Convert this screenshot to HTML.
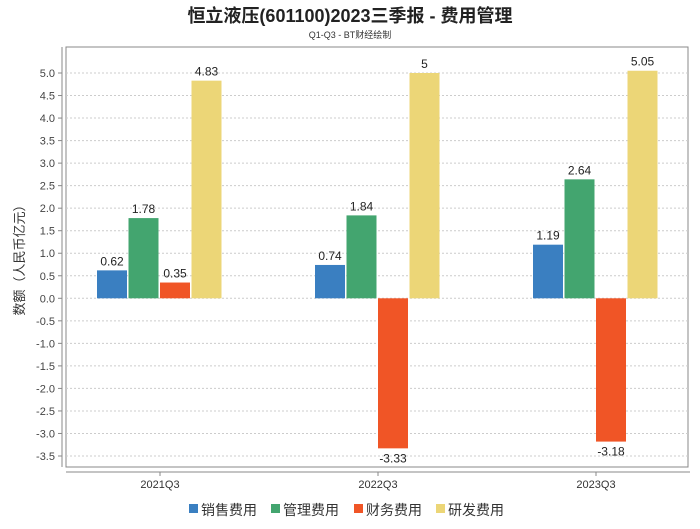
<!DOCTYPE html>
<html><head><meta charset="utf-8"><style>
body{margin:0;background:#fff;}
svg text{font-family:"Liberation Sans","Noto Sans CJK SC",sans-serif;}
</style></head><body>
<svg width="700" height="524" viewBox="0 0 700 524">
<text x="350" y="22" text-anchor="middle" font-size="18" font-weight="bold" fill="#222">恒立液压(601100)2023三季报 - 费用管理</text>
<text x="350" y="38" text-anchor="middle" font-size="9" fill="#333">Q1-Q3 - BT财经绘制</text>
<rect x="66" y="47" width="622" height="420" fill="#fff" stroke="#888"/>
<g id="grid"></g>
<g id="bars"></g>
<line x1="66" y1="472" x2="690" y2="472" stroke="#888"/>
<line x1="62" y1="47" x2="62" y2="467" stroke="#888"/>
<text transform="translate(24,257) rotate(-90)" text-anchor="middle" font-size="13" fill="#333">数额（人民币亿元）</text>
<g id="legend" font-size="14" fill="#333">
<rect x="189" y="504" width="9" height="9" fill="#3a7fc1"/><text x="201" y="515">销售费用</text>
<rect x="271" y="504" width="9" height="9" fill="#43a56f"/><text x="283" y="515">管理费用</text>
<rect x="354" y="504" width="9" height="9" fill="#f05526"/><text x="366" y="515">财务费用</text>
<rect x="436" y="504" width="9" height="9" fill="#ecd677"/><text x="448" y="515">研发费用</text>
</g>
</svg>
<script>
const categories=["2021Q3","2022Q3","2023Q3"];
const sales=[0.62,0.74,1.19];
const admin=[1.78,1.84,2.64];
const finance=[0.35,-3.33,-3.18];
const rd=[4.83,5,5.05];
const yTicks=[5.0,4.5,4.0,3.5,3.0,2.5,2.0,1.5,1.0,0.5,0.0,-0.5,-1.0,-1.5,-2.0,-2.5,-3.0,-3.5];
const NS="http://www.w3.org/2000/svg";
function y(v){return 298.3-v*45.06;}
function xc(i){return 160+i*218;}
function mk(t,a,p){const e=document.createElementNS(NS,t);for(const k in a)e.setAttribute(k,a[k]);(p||document.getElementById('bars')).appendChild(e);return e;}
const grid=document.getElementById('grid');
yTicks.forEach(v=>{
 const l=mk('line',{x1:66,x2:688,y1:y(v),y2:y(v),stroke:'#ccc','stroke-dasharray':'2,2'},grid);
 
 
 const tk=mk('line',{x1:58,x2:62,y1:y(v),y2:y(v),stroke:'#888'},grid);
 
 
 const t=mk('text',{x:55,y:y(v)+4,'text-anchor':'end','font-size':'11',fill:'#444'},grid);
 t.textContent=v.toFixed(1);
 
 
});
categories.forEach((c,i)=>{
 const tk=mk('line',{x1:xc(i),x2:xc(i),y1:472,y2:476,stroke:'#888'},grid);
 
 
 const t=mk('text',{x:xc(i),y:488,'text-anchor':'middle','font-size':'11',fill:'#333'},grid);
 t.textContent=c;
 
 
});
const series=[[sales,'#3a7fc1','sales'],[admin,'#43a56f','admin'],[finance,'#f05526','finance'],[rd,'#ecd677','rd']];
series.forEach((s,si)=>{
 s[0].forEach((v,i)=>{
  const x=xc(i)-63+si*31.5;
  const y0=y(0),y1=y(v);
  const r=mk('rect',{x:x,y:Math.min(y0,y1),width:30,height:Math.abs(y1-y0),fill:s[1]});
  
  
  const t=mk('text',{x:x+15,y:v>=0?y1-5:y1+14,'text-anchor':'middle','font-size':'12',fill:'#222'});
  t.textContent=String(v);
  
  
 });
});
</script>
</body></html>
